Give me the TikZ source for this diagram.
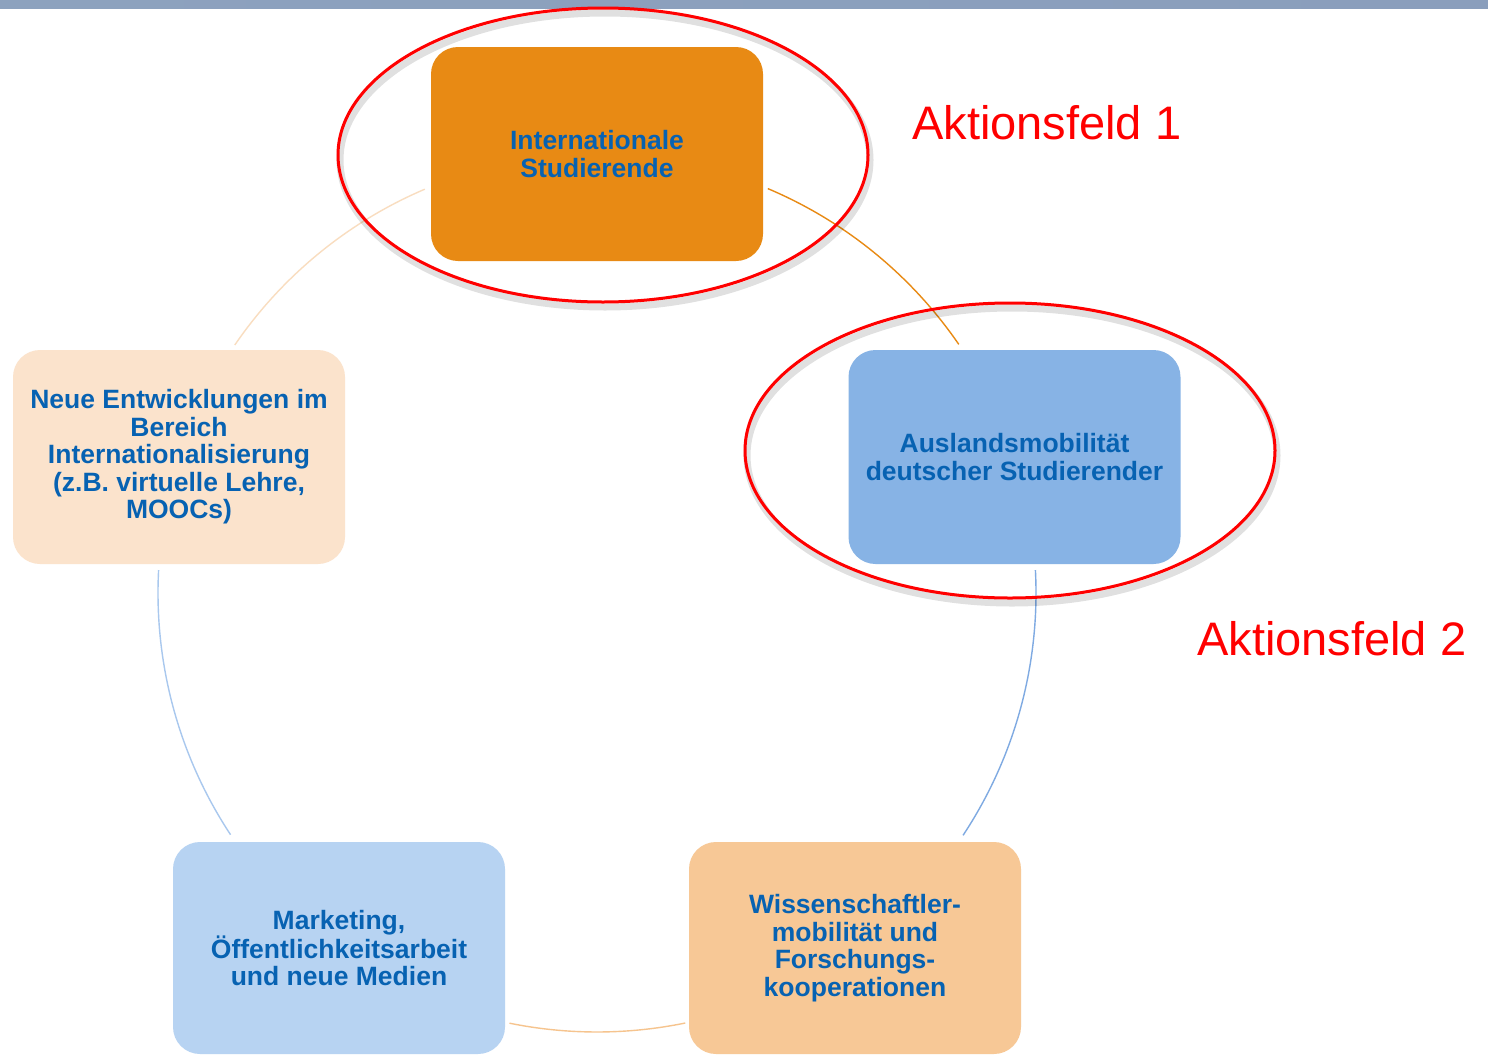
\documentclass[tikz,border=0pt]{standalone}
\usepackage{fontspec}
\setmainfont{Liberation Sans}
\usetikzlibrary{calc}
\definecolor{txtblue}{HTML}{0762B2}
\definecolor{orangeA}{HTML}{E88A14}
\definecolor{blueA}{HTML}{87B3E5}
\definecolor{peachA}{HTML}{FBE3CC}
\definecolor{blueB}{HTML}{B7D3F2}
\definecolor{orangeB}{HTML}{F7C896}
\definecolor{arcBlue}{HTML}{7FAAE2}
\definecolor{arcLBlue}{HTML}{A9C8EE}
\definecolor{arcPeach}{HTML}{F9DDC0}
\definecolor{arcOrangeB}{HTML}{F6C48E}
\definecolor{barL}{HTML}{8DA2BE}
\definecolor{barR}{HTML}{8A9EBC}
\tikzset{
  box/.style={rounded corners=27pt, minimum width=332pt, minimum height=214pt,
    align=center, text=txtblue, inner sep=0pt,
    font=\fontsize{26.5}{27.5}\selectfont\bfseries},
  conn/.style={line width=1.4pt},
  redell/.style={draw=red, line width=3pt},
  shadowell/.style={draw=black, line width=7pt, opacity=0.12},
  label/.style={text=red, font=\fontsize{47}{50}\selectfont, inner sep=0pt, anchor=base west}
}
\begin{document}
\begin{tikzpicture}[x=1pt,y=-1pt]
\useasboundingbox (0,0) rectangle (1488,1055);
\fill[white] (0,0) rectangle (1488,1055);
% top bar
\shade[left color=barL, right color=barR] (0,0) rectangle (1488,8);

% circle connectors
\coordinate (c) at (597,593);
\coordinate (a1) at ([shift={(-67.1:439)}]c);
\coordinate (a2) at ([shift={(-3.0:439)}]c);
\coordinate (a3) at ([shift={(78.4:439)}]c);
\coordinate (a4) at ([shift={(146.6:439)}]c);
\coordinate (a5) at ([shift={(214.4:439)}]c);
\draw[conn, draw=orangeA] (a1) arc[start angle=-67.1, end angle=-34.5, radius=439];
\draw[conn, draw=arcBlue] (a2) arc[start angle=-3.0, end angle=33.5, radius=439];
\draw[conn, draw=arcOrangeB] (a3) arc[start angle=78.4, end angle=101.5, radius=439];
\draw[conn, draw=arcLBlue] (a4) arc[start angle=146.6, end angle=183, radius=439];
\draw[conn, draw=arcPeach] (a5) arc[start angle=214.4, end angle=246.9, radius=439];

% boxes
\node[box, fill=orangeA] (top) at (597,154) {Internationale\\Studierende};
\node[box, fill=blueA] (right) at (1014.5,457) {Auslandsmobilität\\deutscher Studierender};
\node[box, fill=peachA] (left) at (179,457) {Neue Entwicklungen im\\Bereich\\Internationalisierung\\(z.B. virtuelle Lehre,\\MOOCs)};
\node[box, fill=blueB, minimum height=212pt] (bl) at (339,948) {Marketing,\\Öffentlichkeitsarbeit\\und neue Medien};
\node[box, fill=orangeB, minimum height=212pt] (br) at (855,948) {Wissenschaftler-\\mobilität und\\Forschungs-\\kooperationen};

% red ellipses with shadow
\draw[shadowell] (605,160) ellipse [x radius=265, y radius=147];
\draw[shadowell] (1012,455.5) ellipse [x radius=265, y radius=147.5];
\draw[redell] (603,155) ellipse [x radius=265, y radius=147];
\draw[redell] (1010,450.5) ellipse [x radius=265, y radius=147.5];

% labels
\node[label] (af1) at (912,139) {Aktionsfeld 1};
\node[label] (af2) at (1197,655) {Aktionsfeld 2};
\end{tikzpicture}
\end{document}
